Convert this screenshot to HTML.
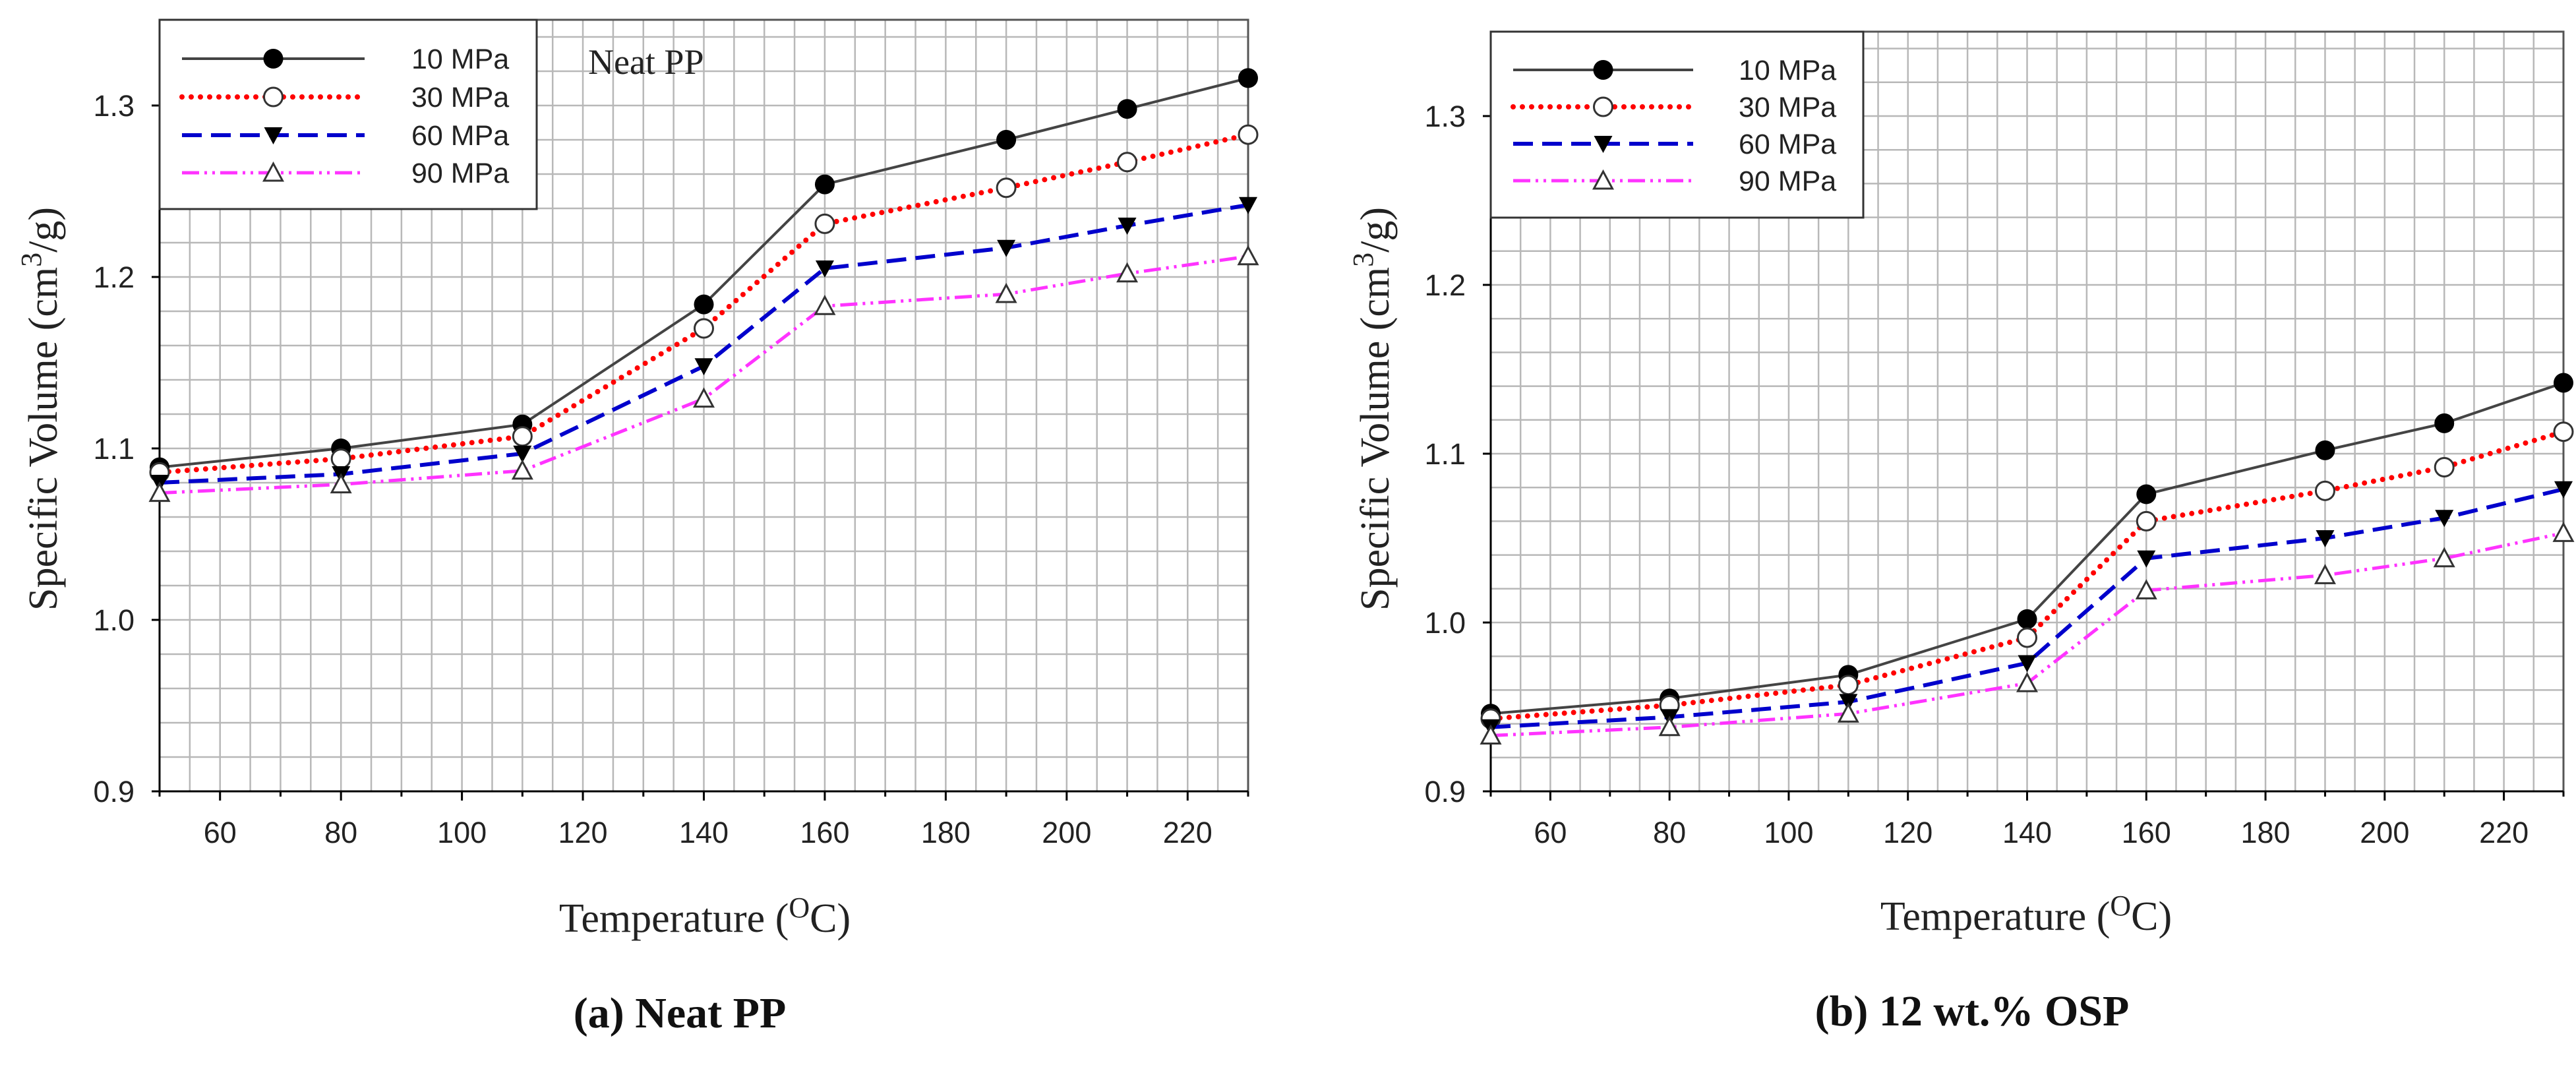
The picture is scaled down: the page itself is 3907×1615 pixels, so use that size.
<!DOCTYPE html>
<html><head><meta charset="utf-8"><style>
html,body{margin:0;padding:0;background:#fff;}
svg{display:block;}
</style></head><body>
<svg id="svg" width="3907" height="1615" viewBox="0 0 3907 1615" xmlns="http://www.w3.org/2000/svg"></svg>
<script>
const temps=[50,80,110,140,160,190,210,230];
const seriesNames=["10 MPa","30 MPa","60 MPa","90 MPa"];
const ppS10=[1.089,1.100,1.114,1.184,1.254,1.280,1.298,1.316];
const ppS30=[1.086,1.094,1.107,1.170,1.231,1.252,1.267,1.283];
const ppS60=[1.080,1.085,1.097,1.148,1.205,1.217,1.230,1.242];
const ppS90=[1.074,1.079,1.087,1.129,1.183,1.190,1.202,1.212];
const ospS10=[0.946,0.955,0.969,1.002,1.076,1.102,1.118,1.142];
const ospS30=[0.943,0.951,0.963,0.991,1.060,1.078,1.092,1.113];
const ospS60=[0.938,0.944,0.953,0.976,1.038,1.050,1.062,1.079];
const ospS90=[0.933,0.938,0.946,0.964,1.019,1.028,1.038,1.053];
const xTicks=[60,80,100,120,140,160,180,200,220];
const yTicks=[0.9,1.0,1.1,1.2,1.3];

const NS="http://www.w3.org/2000/svg";
const svg=document.getElementById('svg');
function mk(tag,attrs,parent,text){const e=document.createElementNS(NS,tag);for(const k in attrs)e.setAttribute(k,attrs[k]);if(text!==undefined)e.textContent=text;(parent||svg).appendChild(e);return e;}

const styles=[
 {stroke:"#444",w:4,dash:"",marker:"filled-circle"},
 {stroke:"#ff0000",w:8,dash:"0 14",cap:"round",marker:"open-circle"},
 {stroke:"#0000cc",w:6,dash:"30 14",marker:"filled-tri"},
 {stroke:"#ff33ff",w:5,dash:"26 8 4 8 4 8",marker:"open-tri"}];

function marker(g,type,x,y){
 let m;
 if(type==="filled-circle") m=mk('circle',{cx:x,cy:y,r:15,fill:"#000"},g);
 else if(type==="open-circle") m=mk('circle',{cx:x,cy:y,r:14,fill:"#fff",stroke:"#333","stroke-width":3},g);
 else if(type==="filled-tri") m=mk('polygon',{points:`${x-14},${y-12} ${x+14},${y-12} ${x},${y+14}`,fill:"#000"},g);
 else m=mk('polygon',{points:`${x-14},${y+12} ${x+14},${y+12} ${x},${y-14}`,fill:"#fff",stroke:"#333","stroke-width":3},g);
 
 
}

function panel(cfg){
 const g=mk('g',{});
 
 
 const X=v=>cfg.L+(v-50)/180*(cfg.R-cfg.L);
 const Y=v=>cfg.B-(v-0.9)/0.45*(cfg.B-cfg.T);
 const grid=mk('g',{stroke:"#b8b8b8","stroke-width":2.5},g);
 
 
 for(let t=55;t<230;t+=5) mk('line',{x1:X(t),x2:X(t),y1:cfg.T,y2:cfg.B},grid);
 for(let k=1;k<23;k++){const v=0.9+k*0.02;mk('line',{x1:cfg.L,x2:cfg.R,y1:Y(v),y2:Y(v)},grid);}
 mk('rect',{x:cfg.L,y:cfg.T,width:cfg.R-cfg.L,height:cfg.B-cfg.T,fill:"none",stroke:"#555","stroke-width":3},g);
 mk('line',{x1:cfg.L-10,x2:cfg.R,y1:cfg.B,y2:cfg.B,stroke:"#000","stroke-width":3},g);
 mk('line',{x1:cfg.L,x2:cfg.L,y1:cfg.T,y2:cfg.B,stroke:"#000","stroke-width":3},g);
 for(let t=50;t<=230;t+=10) mk('line',{x1:X(t),x2:X(t),y1:cfg.B,y2:cfg.B+(t%20===0?14:8),stroke:"#000","stroke-width":3},g);
 xTicks.forEach(t=>{const e=mk('text',{x:X(t),y:cfg.B+78,"text-anchor":"middle","font-family":"Liberation Sans, sans-serif","font-size":45,fill:"#222"},g,String(t));
  });
 yTicks.forEach(v=>{mk('line',{x1:cfg.L-12,x2:cfg.L,y1:Y(v),y2:Y(v),stroke:"#000","stroke-width":3},g);
  const e=mk('text',{x:cfg.L-38,y:Y(v)+16,"text-anchor":"end","font-family":"Liberation Sans, sans-serif","font-size":45,fill:"#222"},g,v.toFixed(1));
  });
 cfg.data.forEach((arr,i)=>{const s=styles[i];
  const pts=arr.map((v,j)=>X(temps[j])+","+Y(v)).join(" ");
  const pl=mk('polyline',{points:pts,fill:"none",stroke:s.stroke,"stroke-width":s.w,"stroke-dasharray":s.dash,"stroke-linecap":s.cap||"butt"},g);
  
  
  arr.forEach((v,j)=>marker(g,s.marker,X(temps[j]),Y(v)));});
 const lg=mk('g',{},g);
 
 
 mk('rect',{x:cfg.L,y:cfg.T,width:cfg.lw,height:cfg.lh,fill:"#fff",stroke:"#333","stroke-width":3},lg);
 seriesNames.forEach((n,i)=>{const s=styles[i];const y=cfg.lrows[i];
  mk('line',{x1:cfg.l1,x2:cfg.l2,y1:y,y2:y,stroke:s.stroke,"stroke-width":s.w,"stroke-dasharray":s.dash,"stroke-linecap":s.cap||"butt"},lg);
  marker(lg,s.marker,(cfg.l1+cfg.l2)/2,y);
  const e=mk('text',{x:cfg.tx,y:y+15,"font-family":"Liberation Sans, sans-serif","font-size":43,fill:"#222"},lg,n);
  });
 const xt=mk('text',{x:cfg.xtx,y:cfg.xty,"text-anchor":"middle","font-family":"Liberation Serif, serif","font-size":62,fill:"#222"},g);
 xt.innerHTML='Temperature (<tspan dy="-22" font-size="44">O</tspan><tspan dy="22">C)</tspan>';
 
 const yt=mk('text',{x:0,y:0,transform:`translate(${cfg.ytx},${cfg.yty}) rotate(-90)`,"text-anchor":"middle","font-family":"Liberation Serif, serif","font-size":62,fill:"#222"},g);
 yt.innerHTML='Specific Volume (cm<tspan dy="-24" font-size="44">3</tspan><tspan dy="24">/g)</tspan>';
 
 const cap=mk('text',{x:cfg.cx,y:cfg.cy,"text-anchor":"middle","font-family":"Liberation Serif, serif","font-size":66,"font-weight":"bold",fill:"#111"},g,cfg.caption);
 
 return g;
}

panel({name:"panel-neat-pp",L:242,R:1893,T:30,B:1200,data:[ppS10,ppS30,ppS60,ppS90],
 lw:572,lh:287,lrows:[89,147,205,262],l1:276,l2:553,tx:624,
 xtx:1069,xty:1413,ytx:86,yty:620,cx:1031,cy:1558,caption:"(a) Neat PP"});
const np=mk('text',{x:892,y:112,"font-family":"Liberation Serif, serif","font-size":54,fill:"#222"},svg,"Neat PP");

panel({name:"panel-osp",L:2261,R:3888,T:48,B:1200,data:[ospS10,ospS30,ospS60,ospS90],
 lw:565,lh:282,lrows:[106,162,218,274],l1:2295,l2:2568,tx:2637,
 xtx:3073,xty:1410,ytx:2106,yty:620,cx:2991,cy:1555,caption:"(b) 12 wt.%  OSP"});
</script>
</body></html>
